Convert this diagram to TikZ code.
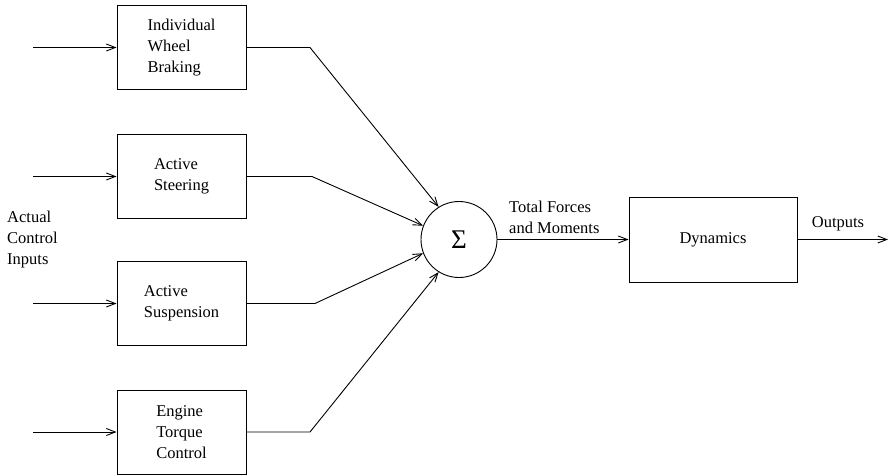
\documentclass[tikz,border=0pt]{standalone}
\usepackage{fontspec}
\setmainfont{Liberation Serif}
\usetikzlibrary{arrows.meta}
\begin{document}
\begin{tikzpicture}[x=1pt,y=-1pt,
  every node/.style={font=\fontsize{16.5}{21}\selectfont},
  blk/.style={draw,line width=0.9pt,minimum width=129pt,minimum height=84pt,align=left,inner sep=0pt},
  lbl/.style={align=left,inner sep=0pt},
  arr/.style={line width=0.9pt,-{Straight Barb[length=9pt,width=7pt]}},
  ln/.style={line width=0.9pt}]
\useasboundingbox (0,0) rectangle (889,475);
\node[blk] (b1) at (181.5,47.5) {Individual\\Wheel\\Braking};
\node[blk] (b2) at (181.5,176.5) {Active\\Steering};
\node[blk] (b3) at (181.5,303.5) {Active\\Suspension};
\node[blk] (b4) at (181.5,432) {Engine\\Torque\\Control};
\node[draw,circle,line width=0.9pt,minimum size=76pt,inner sep=0pt] (sum) at (459,239.5) {\fontsize{27}{27}\selectfont Σ};
\node[blk,minimum width=168pt,minimum height=85pt] (dyn) at (713,239.5) {Dynamics};
\coordinate (in1) at (33,47.5);
\coordinate (in2) at (33,176.5);
\coordinate (in3) at (33,303.5);
\coordinate (in4) at (33,432);
\coordinate (k1) at (310,47.5);
\coordinate (k2) at (312,176.5);
\coordinate (k3) at (315,303.5);
\coordinate (k4) at (310,432);
\coordinate (out) at (888,239.5);
\node[lbl,anchor=west] (aci) at (7,240) {Actual\\Control\\Inputs};
\node[lbl,anchor=west] (tfm) at (509,217) {Total Forces\\and Moments};
\node[lbl] (outl) at (838,224) {Outputs};
\draw[arr] (in1) -- (b1.west);
\draw[arr] (in2) -- (b2.west);
\draw[arr] (in3) -- (b3.west);
\draw[arr] (in4) -- (b4.west);
\draw[arr] (b1.east) -- (k1) -- (sum.122);
\draw[arr] (b2.east) -- (k2) -- (sum.159);
\draw[arr] (b3.east) -- (k3) -- (sum.201);
\draw[arr] (b4.east) -- (k4) -- (sum.238);
\draw[arr] (sum.east) -- (dyn.west);
\draw[arr] (dyn.east) -- (out);
\end{tikzpicture}
\end{document}
